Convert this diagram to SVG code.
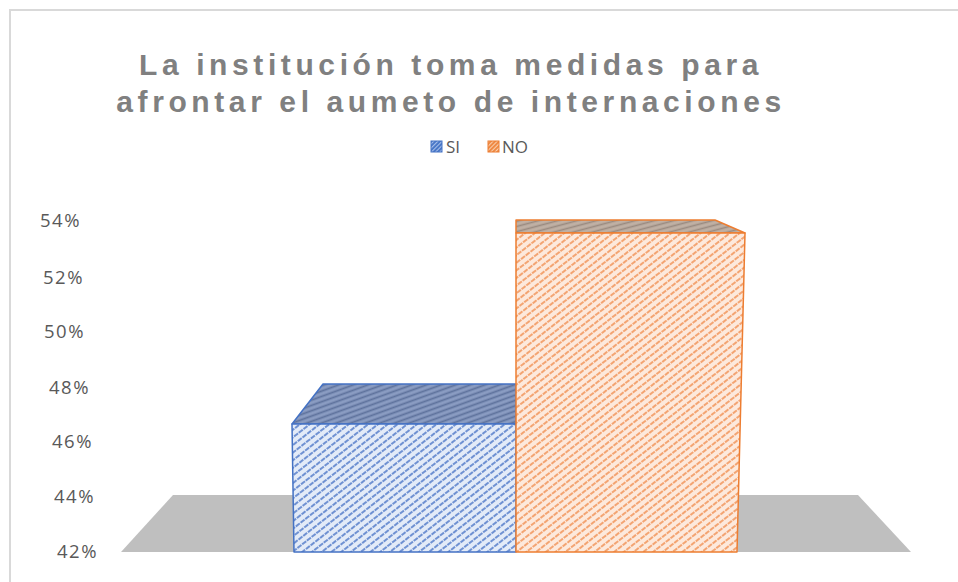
<svg xmlns="http://www.w3.org/2000/svg" width="958" height="582" viewBox="0 0 958 582">
<style>
.title{font-family:"Liberation Sans",Arial,sans-serif;font-weight:bold;font-size:30px;fill:#808080;letter-spacing:4.6px}
.ax{font-family:"Open Sans","Liberation Sans",sans-serif;font-size:18.5px;fill:#595959;letter-spacing:1.5px}
.leg{font-family:"Open Sans","Liberation Sans",sans-serif;font-size:17px;fill:#595959}
.blueEdge{stroke:#4472c4;stroke-width:1.5;stroke-linejoin:round}
.orEdge{stroke:#ed7d31;stroke-width:1.5;stroke-linejoin:round}
</style>
<defs>
<pattern id="pBlue" width="6" height="6" patternUnits="userSpaceOnUse" patternTransform="rotate(-38)">
<rect width="6" height="6" fill="#e3ebf8"/>
<line x1="0" y1="3" x2="6" y2="3" stroke="#6f91d2" stroke-width="2" stroke-dasharray="4 1"/>
</pattern>
<pattern id="pBlueTop" width="5" height="5" patternUnits="userSpaceOnUse" patternTransform="rotate(-20)">
<rect width="5" height="5" fill="#8a9cc2"/>
<line x1="0" y1="2.5" x2="5" y2="2.5" stroke="#5e729c" stroke-width="1.8"/>
</pattern>
<pattern id="pOr" width="6" height="6" patternUnits="userSpaceOnUse" patternTransform="rotate(-38)">
<rect width="6" height="6" fill="#fde9dc"/>
<line x1="0" y1="3" x2="6" y2="3" stroke="#f3a472" stroke-width="2" stroke-dasharray="4 1"/>
</pattern>
<pattern id="pOrTop" width="5" height="5" patternUnits="userSpaceOnUse" patternTransform="rotate(-15)">
<rect width="5" height="5" fill="#c0b0a4"/>
<line x1="0" y1="2.5" x2="5" y2="2.5" stroke="#9a8a80" stroke-width="1.6"/>
</pattern>
<pattern id="pLegB" width="3" height="3" patternUnits="userSpaceOnUse" patternTransform="rotate(-45)">
<rect width="3" height="3" fill="#4a78c8"/>
<line x1="0" y1="1.5" x2="3" y2="1.5" stroke="#a9c0ea" stroke-width="1"/>
</pattern>
<pattern id="pLegO" width="3" height="3" patternUnits="userSpaceOnUse" patternTransform="rotate(-45)">
<rect width="3" height="3" fill="#ee8a45"/>
<line x1="0" y1="1.5" x2="3" y2="1.5" stroke="#f9cfb0" stroke-width="1"/>
</pattern>
</defs>
<rect width="958" height="582" fill="#ffffff"/>
<g id="frame" stroke="#d9d9d9" stroke-width="2" fill="none">
<line x1="9" y1="10" x2="958" y2="10"/>
<line x1="10" y1="10" x2="10" y2="582"/>
</g>
<g id="title">
<text class="title" x="451" y="75" text-anchor="middle">La institución toma medidas para</text>
<text class="title" x="451" y="112" text-anchor="middle">afrontar el aumeto de internaciones</text>
</g>
<g id="legend">
<rect x="431" y="141" width="11" height="11" fill="url(#pLegB)" stroke="#4472c4" stroke-width="1"/>
<text class="leg" x="446" y="153">SI</text>
<rect x="488" y="141" width="11" height="11" fill="url(#pLegO)" stroke="#ed7d31" stroke-width="1"/>
<text class="leg" x="502" y="153">NO</text>
</g>
<g id="axis">
<text class="ax" x="40" y="227">54%</text>
<text class="ax" x="43" y="284">52%</text>
<text class="ax" x="44" y="338">50%</text>
<text class="ax" x="49" y="394">48%</text>
<text class="ax" x="52" y="448">46%</text>
<text class="ax" x="54" y="503">44%</text>
<text class="ax" x="57" y="558">42%</text>
</g>
<g id="floor">
<polygon points="173,495 858,495 911,552 121,552" fill="#bfbfbf"/>
</g>
<g id="bar-si">
<polygon class="blueEdge" points="323,384 516,384 516,424 292,424" fill="url(#pBlueTop)"/>
<polygon class="blueEdge" points="292,424 516,424 516,552 294,552" fill="url(#pBlue)"/>
</g>
<g id="bar-no">
<polygon class="orEdge" points="516,220 715,220 745,233 516,233" fill="url(#pOrTop)"/>
<polygon class="orEdge" points="516,233 745,233 737,552 516,552" fill="url(#pOr)"/>
</g>
</svg>
